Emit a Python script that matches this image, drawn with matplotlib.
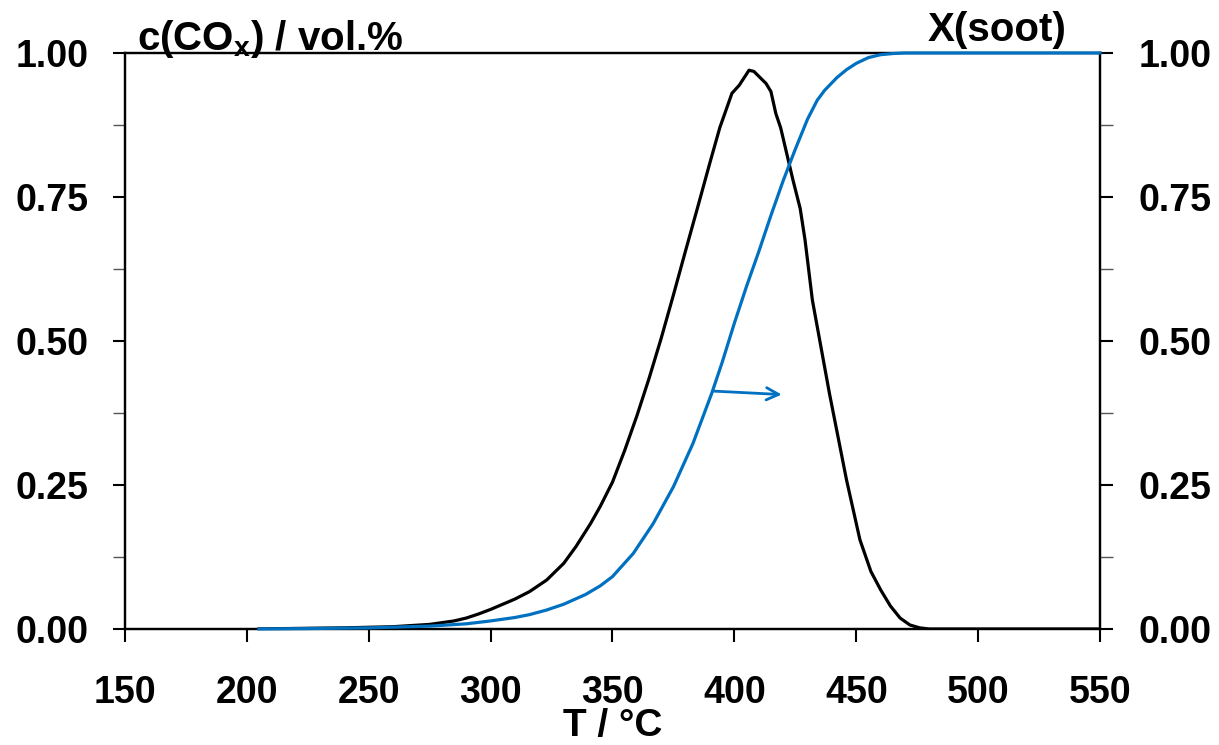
import matplotlib
matplotlib.use("Agg")
import matplotlib.pyplot as plt
from matplotlib.ticker import MultipleLocator, FormatStrFormatter

plt.rcParams['font.family'] = ['Liberation Sans', 'DejaVu Sans']
plt.rcParams['font.weight'] = 'bold'
plt.rcParams['mathtext.fontset'] = 'custom'
plt.rcParams['mathtext.rm'] = 'Liberation Sans:bold'
plt.rcParams['mathtext.bf'] = 'Liberation Sans:bold'
plt.rcParams['mathtext.default'] = 'bf'

# CO_x concentration over temperature
T_cox = [205, 220, 240, 260, 275, 285, 290, 295, 300, 310, 316, 323, 330, 335,
         341, 345, 350, 355, 360, 365, 370, 375, 380, 385, 390, 394, 399, 402,
         406, 408, 413, 415, 417, 419, 424, 427, 429, 432, 439, 446, 451.5, 456,
         460, 464, 468, 472, 476, 480, 500, 550]
cox = [0.000, 0.001, 0.002, 0.004, 0.008, 0.014, 0.019, 0.026, 0.034, 0.052,
       0.065, 0.085, 0.114, 0.143, 0.183, 0.213, 0.255, 0.310, 0.370, 0.435,
       0.505, 0.580, 0.657, 0.733, 0.810, 0.870, 0.930, 0.944, 0.970, 0.968,
       0.947, 0.933, 0.895, 0.870, 0.780, 0.730, 0.675, 0.571, 0.409, 0.259,
       0.155, 0.100, 0.068, 0.040, 0.019, 0.007, 0.002, 0.000, 0.000, 0.000]

# soot conversion over temperature
T_soot = [205, 230, 250, 275, 290, 300, 310, 316, 323, 330, 339, 345, 350, 358.5,
          366.7, 375, 383, 390.7, 395, 400, 405, 410, 415, 420, 425, 430, 434,
          437, 442, 446, 450, 455, 460, 465, 470, 480, 500, 550]
soot = [0.000, 0.001, 0.002, 0.005, 0.009, 0.014, 0.020, 0.025, 0.033, 0.043,
        0.060, 0.075, 0.091, 0.131, 0.183, 0.247, 0.322, 0.409, 0.463, 0.531,
        0.595, 0.655, 0.718, 0.778, 0.833, 0.885, 0.918, 0.935, 0.957, 0.971,
        0.982, 0.992, 0.997, 0.999, 1.000, 1.000, 1.000, 1.000]

x_ticks = [150, 200, 250, 300, 350, 400, 450, 500, 550]
arrow_from = (391.4, 0.413)
arrow_to = (419.4, 0.407)

blue = '#0070C0'
fs = 27

fig = plt.figure(figsize=(12.19, 7.45), dpi=100)
ax = fig.add_axes([0.1025, 0.1557, 0.7999, 0.7732])
ax2 = ax.twinx()

ax.plot(T_cox, cox, color='black', lw=2.3, zorder=3)
ax2.plot(T_soot, soot, color=blue, lw=2.3, zorder=5, clip_on=False)
ax2.annotate('', xy=arrow_to, xytext=arrow_from,
             arrowprops=dict(arrowstyle='->', color=blue, lw=2, mutation_scale=22,
                             shrinkA=0, shrinkB=0))

ax.set_xlim(150, 550)
ax.set_ylim(0, 1)
ax2.set_ylim(0, 1)
ax.set_xticks(x_ticks)

for a in (ax, ax2):
    a.yaxis.set_major_locator(MultipleLocator(0.25))
    a.yaxis.set_minor_locator(MultipleLocator(0.125))
    a.yaxis.set_major_formatter(FormatStrFormatter('%.2f'))
    for s in a.spines.values():
        s.set_linewidth(1.6)

ax.tick_params(axis='x', direction='out', length=9, width=1.5, pad=24, labelsize=fs)
ax.tick_params(axis='y', which='major', direction='out', length=9, width=1.5,
               pad=17, labelsize=fs)
ax.tick_params(axis='y', which='minor', direction='out', length=9, width=1,
               color='#555555')
ax2.tick_params(axis='y', which='major', direction='out', length=9, width=1.5,
                pad=19, labelsize=fs)
ax2.tick_params(axis='y', which='minor', direction='out', length=9, width=1,
                color='#555555')

ax.set_xlabel('T / °C', fontsize=fs + 1, fontweight='bold', labelpad=-2)
ax.text(0.012, 1.006, r'c(CO$_{\mathbf{x}}$) / vol.%', transform=ax.transAxes,
        fontsize=29, fontweight='bold', ha='left', va='baseline')
ax.text(0.966, 1.02, 'X(soot)', transform=ax.transAxes,
        fontsize=29, fontweight='bold', ha='right', va='baseline')

fig.savefig('out.png', dpi=100)
